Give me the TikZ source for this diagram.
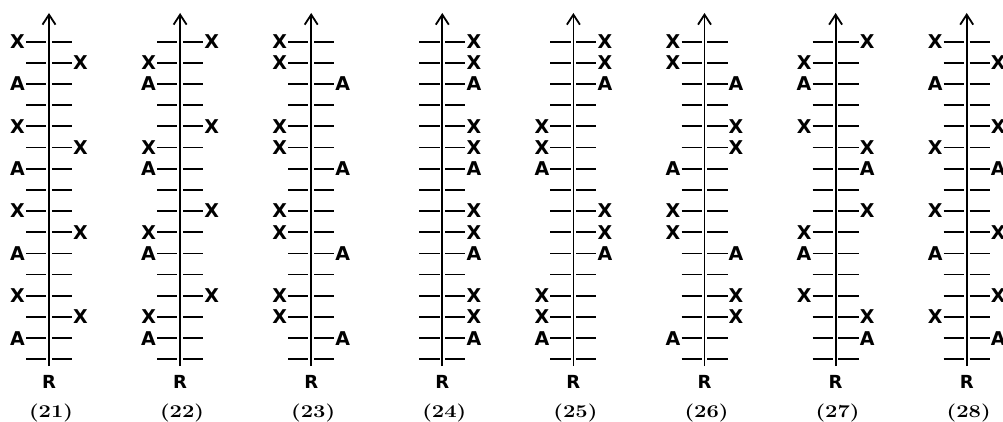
\documentclass[tikz,border=0pt]{standalone}
\usepackage{graphicx}
\usepackage{fontspec}
\newfontfamily\lblfont{DejaVu Sans}
\usetikzlibrary{arrows.meta}
\tikzset{
  axisline/.style={line width=1.8pt,-{Straight Barb[length=10pt,width=13pt,line width=1.8pt]}},
  tickline/.style={line width=1.8pt},
  lab/.style={inner sep=1pt,font=\lblfont\bfseries\fontsize{19}{19}\selectfont},
  lside/.style={anchor=east,xshift=-23pt},
  rside/.style={anchor=west,xshift=23pt},
  rlab/.style={inner sep=0pt,font=\lblfont\bfseries\fontsize{18}{18}\selectfont},
  caplab/.style={inner sep=0pt,font=\bfseries\fontsize{18}{18}\selectfont}
}
\newcommand\stripcol[3]{%
  \coordinate (b#1) at (#2,366);
  \coordinate (t#1) at (#2,13);
  \draw[axisline] (b#1) -- (t#1);
  \foreach \i in {1,...,16}{
    \draw[tickline] (#2-23,{41.7+(\i-1)*21.17}) -- (#2-2.8,{41.7+(\i-1)*21.17});
    \draw[tickline] (#2+2.8,{41.7+(\i-1)*21.17}) -- (#2+23,{41.7+(\i-1)*21.17});
  }
  \foreach \r/\s/\t in {#3}{
    \node[lab,\s] (lab#1-\r) at (#2,{41.7+(\r-1)*21.17}) {\t};
  }
  \node[rlab] (R#1) at (#2,382) {R};
  \node[caplab] (cap#1) at (#2+2,413) {\scalebox{1.22}[1]{(#1)}};
}
\begin{document}
\begin{tikzpicture}[x=1pt,y=-1pt]
\useasboundingbox (0,0) rectangle (1003,422);
\stripcol{21}{49}{1/lside/X,2/rside/X,3/lside/A,5/lside/X,6/rside/X,7/lside/A,9/lside/X,10/rside/X,11/lside/A,13/lside/X,14/rside/X,15/lside/A}
\stripcol{22}{180.1}{1/rside/X,2/lside/X,3/lside/A,5/rside/X,6/lside/X,7/lside/A,9/rside/X,10/lside/X,11/lside/A,13/rside/X,14/lside/X,15/lside/A}
\stripcol{23}{311.2}{1/lside/X,2/lside/X,3/rside/A,5/lside/X,6/lside/X,7/rside/A,9/lside/X,10/lside/X,11/rside/A,13/lside/X,14/lside/X,15/rside/A}
\stripcol{24}{442.3}{1/rside/X,2/rside/X,3/rside/A,5/rside/X,6/rside/X,7/rside/A,9/rside/X,10/rside/X,11/rside/A,13/rside/X,14/rside/X,15/rside/A}
\stripcol{25}{573.4}{1/rside/X,2/rside/X,3/rside/A,5/lside/X,6/lside/X,7/lside/A,9/rside/X,10/rside/X,11/rside/A,13/lside/X,14/lside/X,15/lside/A}
\stripcol{26}{704.5}{1/lside/X,2/lside/X,3/rside/A,5/rside/X,6/rside/X,7/lside/A,9/lside/X,10/lside/X,11/rside/A,13/rside/X,14/rside/X,15/lside/A}
\stripcol{27}{835.6}{1/rside/X,2/lside/X,3/lside/A,5/lside/X,6/rside/X,7/rside/A,9/rside/X,10/lside/X,11/lside/A,13/lside/X,14/rside/X,15/rside/A}
\stripcol{28}{966.7}{1/lside/X,2/rside/X,3/lside/A,5/rside/X,6/lside/X,7/rside/A,9/lside/X,10/rside/X,11/lside/A,13/rside/X,14/lside/X,15/rside/A}
\end{tikzpicture}
\end{document}
